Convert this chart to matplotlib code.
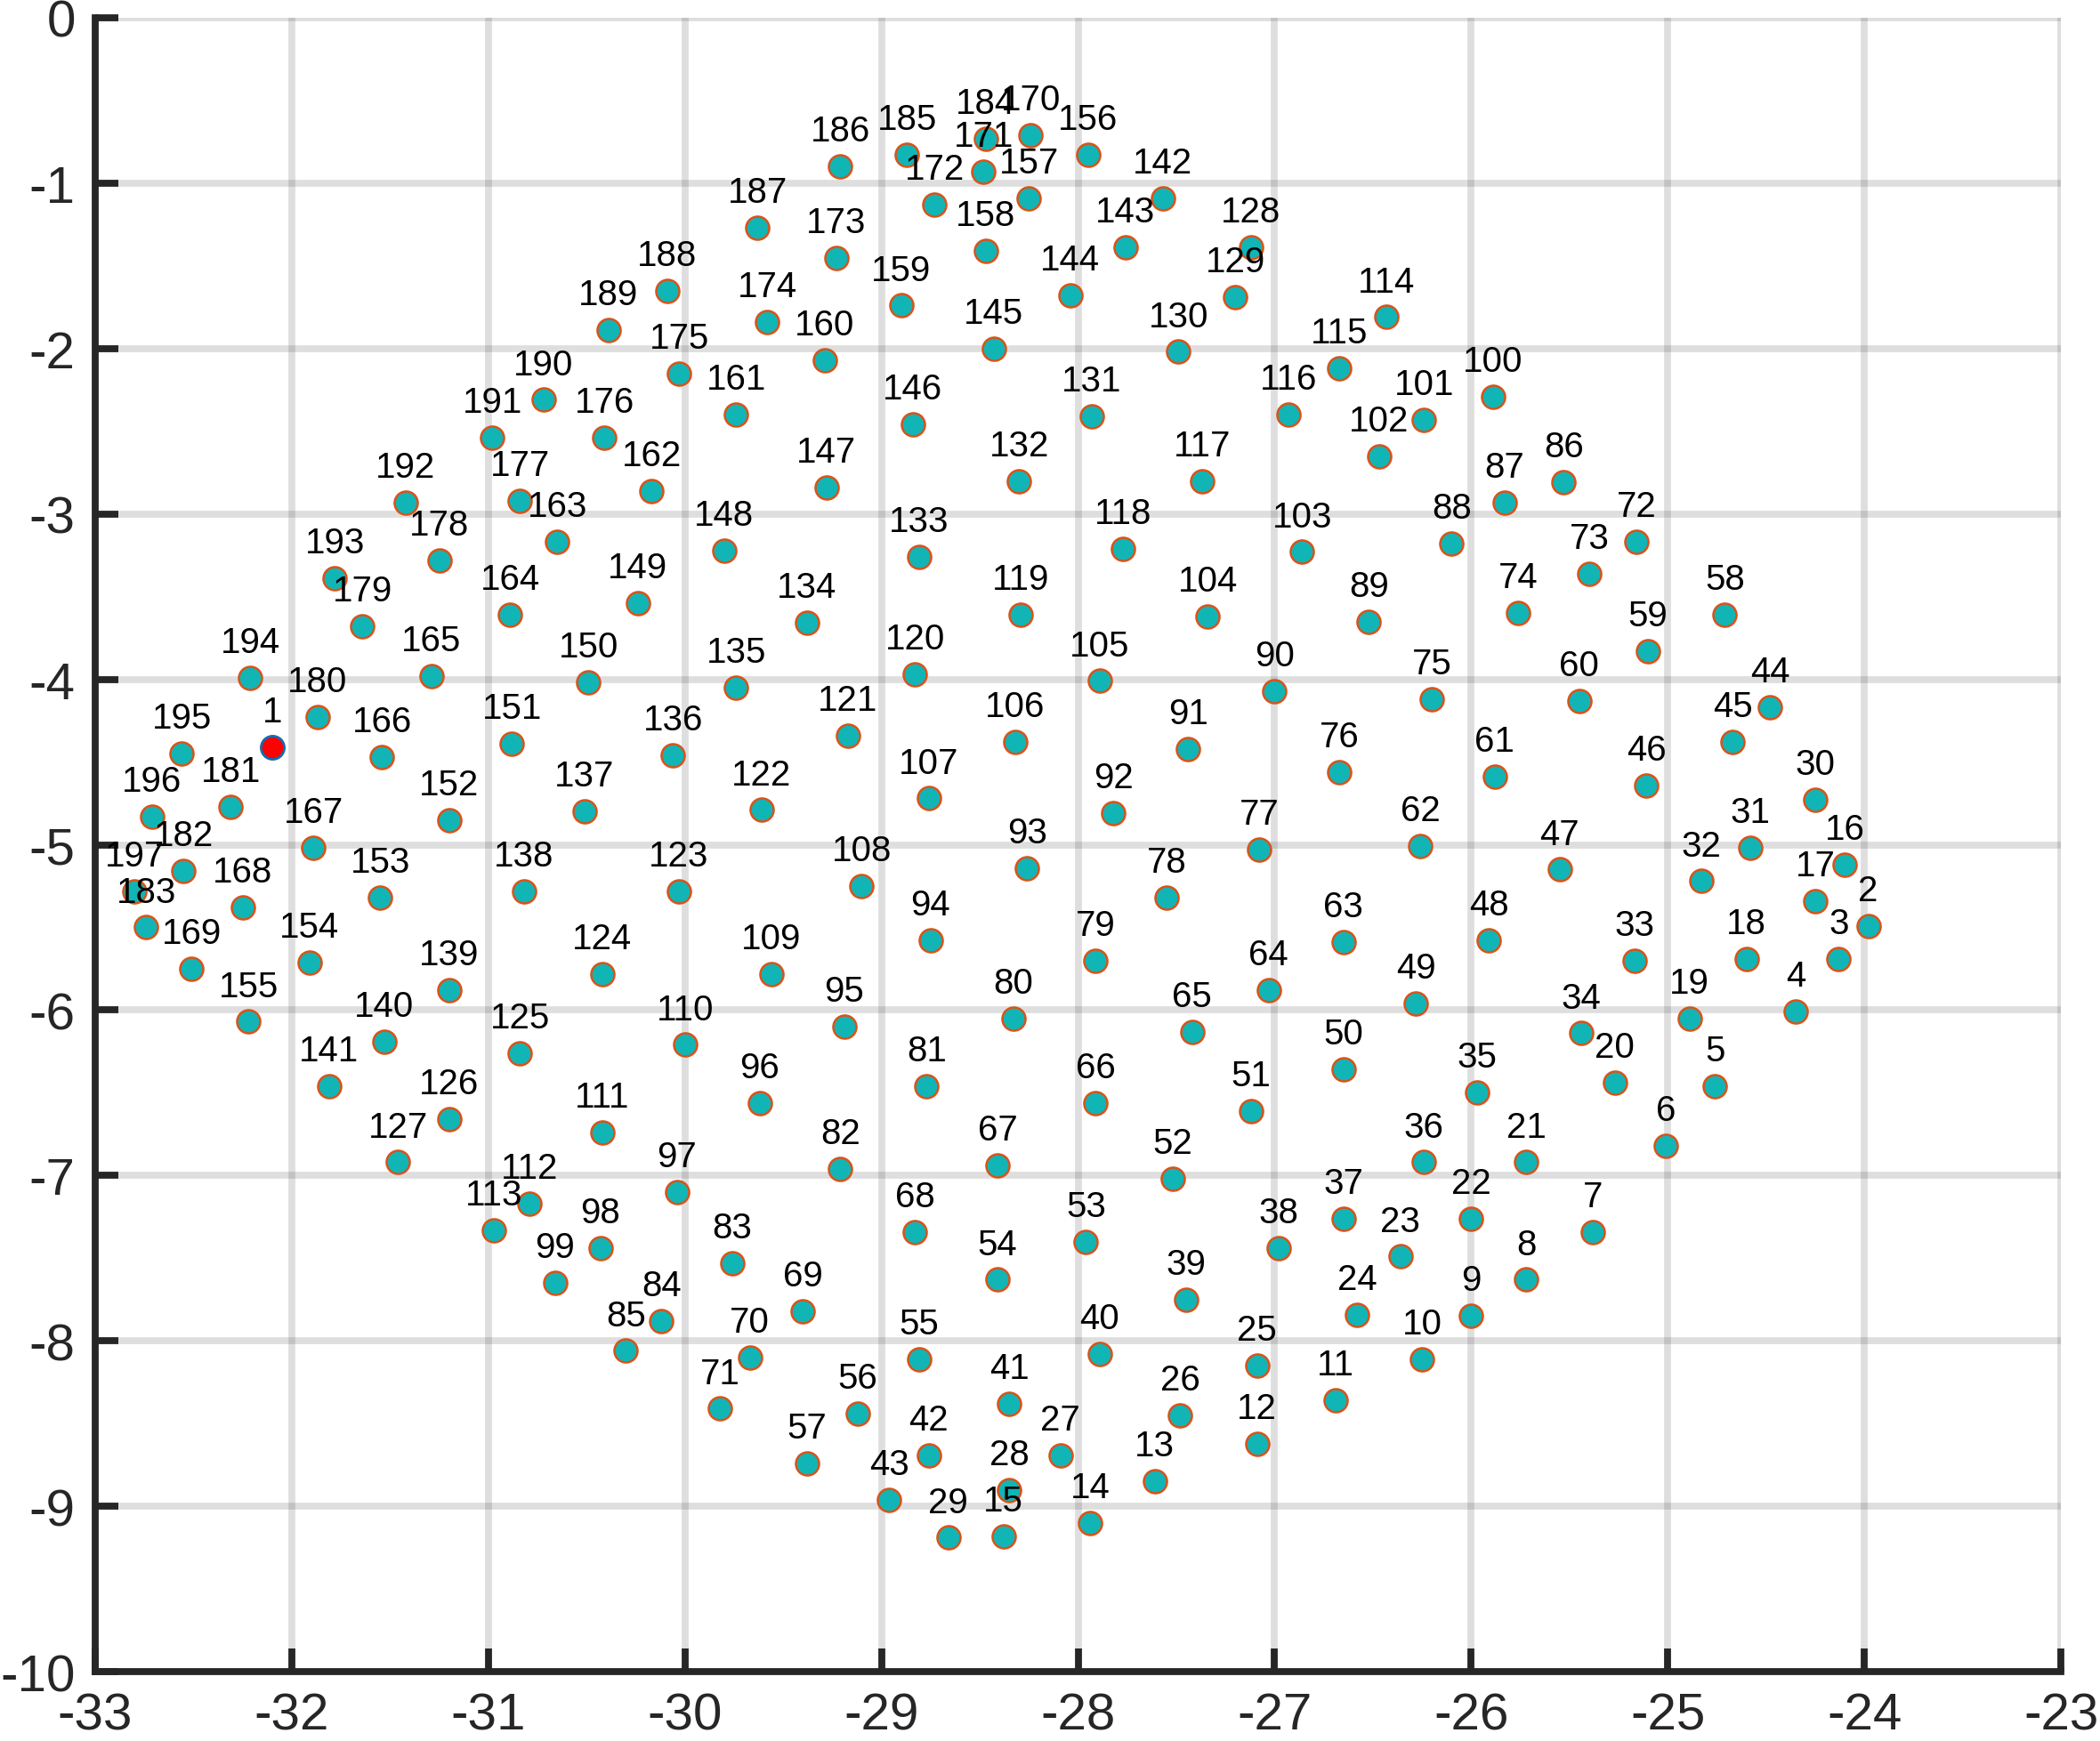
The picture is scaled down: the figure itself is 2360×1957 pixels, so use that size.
"""Labelled node positions scatter plot."""

from __future__ import annotations

import matplotlib

matplotlib.use("Agg")
import matplotlib.pyplot as plt

# node coordinates, node k sits at index k-1
node_x = [
    -32.10, -23.98, -24.13, -24.35, -24.76, -25.01, -25.38, -25.72, -26.00, -26.25,
    -26.69, -27.09, -27.61, -27.94, -28.38, -24.10, -24.25, -24.60, -24.89, -25.27,
    -25.72, -26.00, -26.36, -26.58, -27.09, -27.48, -28.09, -28.35, -28.66, -24.25,
    -24.58, -24.83, -25.17, -25.44, -25.97, -26.24, -26.65, -26.98, -27.45, -27.89,
    -28.35, -28.76, -28.96, -24.48, -24.67, -25.11, -25.55, -25.91, -26.28, -26.65,
    -27.12, -27.52, -27.96, -28.41, -28.81, -29.12, -29.38, -24.71, -25.10, -25.45,
    -25.88, -26.26, -26.65, -27.03, -27.42, -27.91, -28.41, -28.83, -29.40, -29.67,
    -29.82, -25.16, -25.40, -25.76, -26.20, -26.67, -27.08, -27.55, -27.91, -28.33,
    -28.77, -29.21, -29.76, -30.12, -30.30, -25.53, -25.83, -26.10, -26.52, -27.00,
    -27.44, -27.82, -28.26, -28.75, -29.19, -29.62, -30.04, -30.43, -30.66, -25.89,
    -26.24, -26.47, -26.86, -27.34, -27.89, -28.32, -28.76, -29.10, -29.56, -30.00,
    -30.42, -30.79, -30.97, -26.43, -26.67, -26.93, -27.37, -27.77, -28.29, -28.83,
    -29.17, -29.61, -30.03, -30.42, -30.84, -31.20, -31.46, -27.12, -27.20, -27.49,
    -27.93, -28.30, -28.81, -29.38, -29.74, -30.06, -30.51, -30.82, -31.20, -31.53,
    -31.81, -27.57, -27.76, -28.04, -28.43, -28.84, -29.28, -29.80, -30.24, -30.49,
    -30.88, -31.20, -31.55, -31.91, -32.22, -27.95, -28.25, -28.47, -28.90, -29.29,
    -29.74, -30.17, -30.65, -30.89, -31.29, -31.54, -31.89, -32.25, -32.51, -28.24,
    -28.48, -28.73, -29.23, -29.58, -30.03, -30.41, -30.84, -31.25, -31.64, -31.87,
    -32.31, -32.55, -32.74, -28.47, -28.87, -29.21, -29.63, -30.09, -30.39, -30.72,
    -30.98, -31.42, -31.78, -32.21, -32.56, -32.71, -32.80,
]
node_y = [
    -4.41, -5.49, -5.69, -6.01, -6.46, -6.82, -7.34, -7.63, -7.85, -8.11,
    -8.36, -8.62, -8.85, -9.10, -9.18, -5.12, -5.34, -5.69, -6.05, -6.44,
    -6.92, -7.26, -7.49, -7.84, -8.15, -8.45, -8.69, -8.90, -9.19, -4.73,
    -5.02, -5.22, -5.70, -6.14, -6.50, -6.92, -7.26, -7.44, -7.75, -8.08,
    -8.38, -8.69, -8.96, -4.17, -4.38, -4.64, -5.15, -5.58, -5.96, -6.36,
    -6.61, -7.02, -7.40, -7.63, -8.11, -8.44, -8.74, -3.61, -3.83, -4.13,
    -4.59, -5.01, -5.59, -5.88, -6.13, -6.56, -6.94, -7.34, -7.82, -8.10,
    -8.41, -3.17, -3.36, -3.60, -4.12, -4.56, -5.03, -5.32, -5.70, -6.05,
    -6.46, -6.96, -7.53, -7.88, -8.06, -2.81, -2.93, -3.18, -3.65, -4.07,
    -4.42, -4.81, -5.14, -5.58, -6.10, -6.56, -7.10, -7.44, -7.65, -2.29,
    -2.43, -2.65, -3.23, -3.62, -4.01, -4.38, -4.72, -5.25, -5.78, -6.21,
    -6.74, -7.17, -7.33, -1.81, -2.12, -2.40, -2.80, -3.21, -3.61, -3.97,
    -4.34, -4.79, -5.28, -5.78, -6.26, -6.66, -6.92, -1.39, -1.69, -2.02,
    -2.41, -2.80, -3.26, -3.66, -4.05, -4.46, -4.80, -5.28, -5.88, -6.19,
    -6.46, -1.09, -1.39, -1.68, -2.00, -2.46, -2.84, -3.22, -3.54, -4.02,
    -4.39, -4.85, -5.32, -5.71, -6.07, -0.83, -1.09, -1.41, -1.74, -2.07,
    -2.40, -2.86, -3.17, -3.61, -3.98, -4.47, -5.02, -5.38, -5.75, -0.71,
    -0.93, -1.13, -1.45, -1.84, -2.15, -2.54, -2.92, -3.28, -3.68, -4.23,
    -4.77, -5.16, -5.50, -0.73, -0.83, -0.90, -1.27, -1.65, -1.89, -2.31,
    -2.54, -2.93, -3.39, -3.99, -4.45, -4.83, -5.28,
]
node_labels = [str(k) for k in range(1, len(node_x) + 1)]
highlight_node = 1

x_ticks = list(range(-33, -22))
y_ticks = list(range(-10, 1))

AXIS_COLOR = "#262626"


def save_figure(fig: plt.Figure, output_path: str, dpi: int = 200) -> None:
    """Save the figure at the reference size."""

    fig.savefig(output_path, dpi=dpi)


def style_axes(ax: plt.Axes) -> None:
    """MATLAB-like axes: no box, thick inward ticks, soft grid."""

    ax.set_xlim(x_ticks[0], x_ticks[-1])
    ax.set_ylim(y_ticks[0], y_ticks[-1])
    ax.set_xticks(x_ticks)
    ax.set_yticks(y_ticks)
    for side in ("top", "right"):
        ax.spines[side].set_visible(False)
    for side in ("left", "bottom"):
        ax.spines[side].set_linewidth(2.8)
        ax.spines[side].set_color(AXIS_COLOR)
        ax.spines[side].set_capstyle("projecting")
    ax.tick_params(direction="in", length=9.5, width=2.8, color=AXIS_COLOR,
                   labelcolor=AXIS_COLOR, labelsize=21, pad=8)
    ax.grid(True, color=(0.15, 0.15, 0.15), alpha=0.15, linewidth=2.8)
    ax.set_axisbelow(True)


def plot_nodes(output_path: str) -> None:
    """Scatter the nodes with their index written above each one."""

    plt.rcParams["font.family"] = ["Liberation Sans", "DejaVu Sans"]
    plt.rcParams["axes.unicode_minus"] = False

    fig = plt.figure(figsize=(11.8, 9.79))
    ax = fig.add_axes([0.0453, 0.0398, 0.9814 - 0.0453, 0.9893 - 0.0398])
    style_axes(ax)

    ax.scatter(node_x, node_y, s=88, c="#12B5B5", edgecolors="#D95319",
               linewidths=0.9, zorder=2, clip_on=False)
    i = highlight_node - 1
    ax.scatter([node_x[i]], [node_y[i]], s=88, c="red", edgecolors="#0072BD",
               linewidths=0.9, zorder=2.5, clip_on=False)

    for x, y, label in zip(node_x, node_y, node_labels):
        ax.annotate(label, (x, y), xytext=(0, 10.4), textcoords="offset points",
                    ha="center", va="baseline", fontsize=14.5, color="black",
                    zorder=3)

    save_figure(fig, output_path)
    plt.close(fig)


if __name__ == "__main__":
    plot_nodes("out.png")
